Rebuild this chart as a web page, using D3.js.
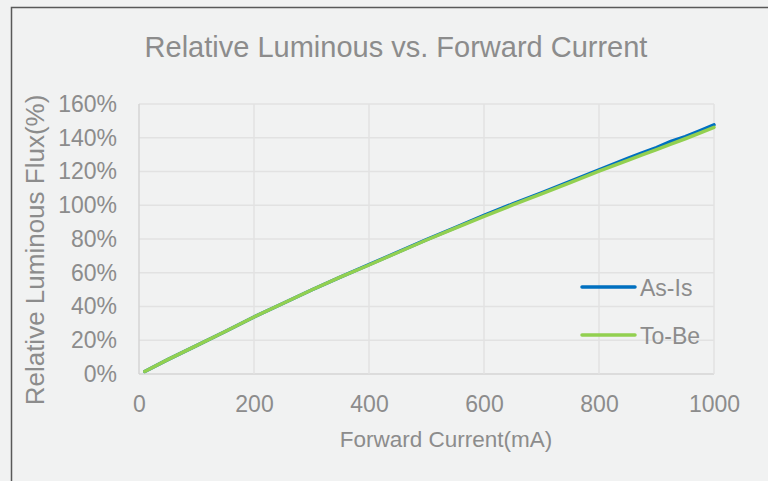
<!DOCTYPE html>
<html>
<head>
<meta charset="utf-8">
<script src="https://cdn.jsdelivr.net/npm/d3@7"></script>
<style>
  html, body { margin: 0; padding: 0; background: #f1f2f2; }
  svg { display: block; }
</style>
</head>
<body>
<svg></svg>
<script>
// forward current (mA)
const current = [10, 50, 100, 150, 200, 250, 300, 350, 400, 450, 500, 550, 600, 650, 700, 750, 800, 850, 875, 900, 925, 950, 975, 1000];
// relative luminous flux (%)
const asIs = [1.5, 8.5, 16.8, 25.2, 33.8, 41.8, 49.8, 57.4, 64.8, 72.2, 79.6, 86.8, 94.0, 100.8, 107.4, 114.2, 121.0, 127.8, 131.0, 134.2, 137.8, 140.6, 144.0, 147.6];
const toBe = [1.5, 8.5, 16.8, 25.2, 33.8, 41.8, 49.8, 57.4, 64.6, 72.0, 79.4, 86.4, 93.4, 100.2, 106.8, 113.4, 120.2, 126.6, 129.8, 133.0, 136.2, 139.4, 142.8, 146.2];
const xTicks = [0, 200, 400, 600, 800, 1000];
const yTicks = [0, 20, 40, 60, 80, 100, 120, 140, 160];
const seriesNames = ['As-Is', 'To-Be'];
const seriesColors = ['#0070c0', '#92d050'];

const WIDTH = 768;
const HEIGHT = 481;
const LEFT = 139, RIGHT = 714, TOP = 104, BOTTOM = 374;
const TEXT = '#8c8c8c';
const FONT = '"Liberation Sans", Arial, sans-serif';

const svg = d3.select('svg').
attr('width', WIDTH).
attr('height', HEIGHT).
attr('font-family', FONT);

svg.append('rect').
attr('width', WIDTH).
attr('height', HEIGHT).
attr('fill', '#f1f2f2');

// chart border (runs off the right / bottom edge)
svg.append('rect').
attr('x', 11.5).
attr('y', 7.5).
attr('width', 800).
attr('height', 520).
attr('fill', 'none').
attr('stroke', '#595959').
attr('stroke-width', 1.5);

const xScale = d3.scaleLinear().domain([0, 1000]).range([LEFT, RIGHT]);
const yScale = d3.scaleLinear().domain([0, 160]).range([BOTTOM, TOP]);

/* --GRID-- */
svg.append('g').
selectAll('line').
data(yTicks).
enter().
append('line').
attr('x1', LEFT).
attr('x2', RIGHT).
attr('y1', d => yScale(d)).
attr('y2', d => yScale(d)).
attr('stroke', d => d === 0 ? '#d4d4d4' : '#e2e2e2').
attr('stroke-width', 1.5);

svg.append('g').
selectAll('line').
data(xTicks).
enter().
append('line').
attr('x1', d => xScale(d)).
attr('x2', d => xScale(d)).
attr('y1', TOP).
attr('y2', BOTTOM).
attr('stroke', d => d === 0 ? '#d4d4d4' : '#e2e2e2').
attr('stroke-width', 1.5);

/* --AXES-- */
const xAxis = d3.axisBottom(xScale).tickValues(xTicks).tickSize(0).tickPadding(22).tickFormat(d => String(d));
const xG = svg.append('g').
attr('transform', `translate(0, ${BOTTOM})`).
call(xAxis);
xG.select('.domain').remove();
xG.selectAll('text').attr('fill', TEXT).attr('font-size', 23).attr('font-family', FONT);

const yAxis = d3.axisLeft(yScale).tickValues(yTicks).tickSize(0).tickPadding(22).tickFormat(d => d + '%');
const yG = svg.append('g').
attr('transform', `translate(${LEFT}, 0)`).
call(yAxis);
yG.select('.domain').remove();
yG.selectAll('text').attr('fill', TEXT).attr('font-size', 23).attr('font-family', FONT);

/* --TEXT-- */
svg.append('text').
text('Relative Luminous vs. Forward Current').
attr('x', 396).
attr('y', 57).
attr('text-anchor', 'middle').
attr('font-size', 29).
attr('fill', TEXT);

svg.append('text').
text('Forward Current(mA)').
attr('x', 446).
attr('y', 447).
attr('text-anchor', 'middle').
attr('font-size', 22.5).
attr('fill', TEXT);

svg.append('text').
text('Relative Luminous Flux(%)').
attr('transform', 'translate(44, 250) rotate(-90)').
attr('text-anchor', 'middle').
attr('font-size', 26).
attr('fill', TEXT);

/* --LINES-- */
const line = d3.line().
x((d, i) => xScale(current[i])).
y(d => yScale(d));

[asIs, toBe].forEach((s, k) => {
  svg.append('path').
  datum(s).
  attr('d', line).
  attr('fill', 'none').
  attr('stroke', seriesColors[k]).
  attr('stroke-width', 3.5).
  attr('stroke-linejoin', 'round').
  attr('stroke-linecap', 'round');
});

/* --LEGEND-- */
const legendG = svg.append('g');
seriesNames.forEach((name, k) => {
  const y = 287 + k * 48;
  legendG.append('line').
  attr('x1', 582).
  attr('x2', 635).
  attr('y1', y).
  attr('y2', y).
  attr('stroke', seriesColors[k]).
  attr('stroke-width', 3.5).
  attr('stroke-linecap', 'round');
  legendG.append('text').
  text(name).
  attr('x', 640).
  attr('y', y + 9).
  attr('font-size', 23).
  attr('fill', TEXT);
});
</script>
</body>
</html>
